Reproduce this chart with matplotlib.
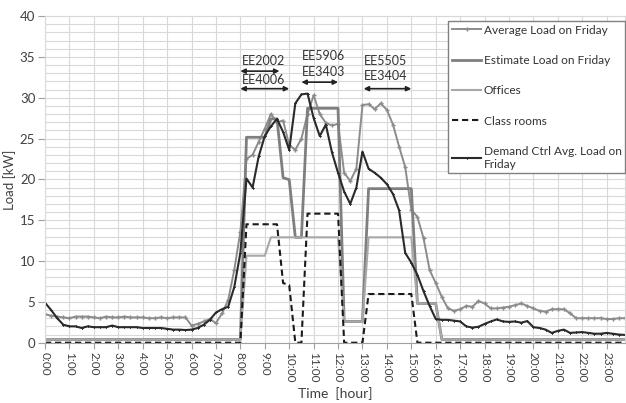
import matplotlib
matplotlib.use("Agg")
import matplotlib.pyplot as plt
import numpy as np

plt.rcParams['font.family'] = ['Lato', 'DejaVu Sans']

# ---------------- data (15-minute samples, 0:00 .. 23:45) ----------------
avg_load = [
    3.5, 3.3, 3.2, 3.1,   3.0, 3.2, 3.2, 3.2,   3.1, 3.0, 3.2, 3.1,
    3.1, 3.2, 3.1, 3.1,   3.1, 3.0, 3.0, 3.1,   3.0, 3.1, 3.1, 3.1,
    2.1, 2.3, 2.6, 2.9,   2.4, 3.6, 5.2, 8.9,   13.6, 22.5, 23.0, 24.6,
    26.2, 28.0, 27.0, 27.2, 24.2, 23.6, 25.0, 28.0, 30.3, 28.0, 26.9, 26.6,
    26.8, 20.8, 19.8, 21.3, 29.1, 29.2, 28.6, 29.3, 28.5, 26.7, 24.0, 21.5,
    16.3, 15.4, 12.8, 8.9,  7.3, 5.6, 4.2, 3.9,   4.1, 4.5, 4.4, 5.1,
    4.8, 4.2, 4.2, 4.3,   4.4, 4.6, 4.8, 4.5,   4.2, 3.9, 3.8, 4.1,
    4.1, 4.1, 3.6, 3.0,   3.0, 3.0, 3.0, 3.0,   2.9, 2.9, 3.0, 3.0,
]

demand_ctrl = [
    4.9, 4.0, 3.0, 2.2,   2.0, 2.0, 1.8, 2.0,   1.9, 1.9, 1.9, 2.1,
    1.9, 1.9, 1.9, 1.9,   1.8, 1.8, 1.8, 1.8,   1.7, 1.6, 1.6, 1.55,
    1.6, 1.8, 2.2, 2.8,   3.7, 4.1, 4.4, 6.8,   11.0, 20.1, 19.0, 22.8,
    25.3, 26.5, 27.4, 25.8, 23.6, 29.3, 30.4, 30.5, 27.5, 25.3, 26.7, 23.3,
    20.8, 18.5, 17.0, 19.0, 23.4, 21.3, 20.8, 20.2, 19.4, 18.2, 16.2, 11.0,
    9.8, 8.3, 6.3, 4.5,   2.9, 2.8, 2.8, 2.7,   2.6, 2.0, 1.85, 1.95,
    2.3, 2.6, 2.85, 2.6,  2.55, 2.6, 2.45, 2.65, 1.9, 1.8, 1.6, 1.2,
    1.45, 1.6, 1.2, 1.25, 1.3, 1.2, 1.1, 1.1,   1.2, 1.1, 1.0, 0.95,
]

# step profiles given as (start hour, value) segments
offices_steps = [(0.0, 0.4), (8.25, 10.65), (9.25, 12.9), (12.25, 2.6),
                 (13.25, 12.9), (15.25, 4.8), (16.25, 0.4)]
classroom_steps = [(0.0, 0.0), (8.25, 14.5), (9.75, 7.3), (10.0, 7.06),
                   (10.25, 0.0), (10.75, 15.8), (12.25, 0.0), (13.25, 5.96),
                   (15.25, 0.0)]

annotations = [
    # label, x start, x end, arrow y, text y
    ("EE2002", 8.0, 9.6, 33.25, 34.5),
    ("EE4006", 8.0, 10.0, 31.1, 32.2),
    ("EE5906", 10.5, 12.0, None, 35.1),
    ("EE3403", 10.5, 12.0, 31.9, 33.1),
    ("EE5505", 13.05, 15.0, None, 34.5),
    ("EE3404", 13.05, 15.0, 31.1, 32.6),
]

hour_labels = ["%d:00" % h for h in range(24)]
series_labels = ["Average Load on Friday", "Estimate Load on Friday", "Offices",
                 "Class rooms", "Demand Ctrl Avg. Load on\nFriday"]

# ---------------- derived series ----------------
t = np.arange(96) * 0.25


def step_series(steps):
    out = np.zeros(96)
    for start, val in steps:
        out[t >= start - 1e-9] = val
    return out


offices = step_series(offices_steps)
classrooms = step_series(classroom_steps)
estimate = offices + classrooms

# ---------------- figure ----------------
fig = plt.figure(figsize=(6.26, 4.03), dpi=100)
ax = fig.add_axes([45 / 626, (403 - 342.7) / 403, 580 / 626, (342.7 - 16) / 403])

grid_c = '#d9d9d9'
ax.set_xlim(0, 23.75)
ax.set_ylim(0, 40)
ax.set_yticks(np.arange(0, 41, 5))
ax.set_yticks(np.arange(0, 41, 1), minor=True)
ax.set_xticks(np.arange(24))
ax.set_xticklabels(hour_labels, rotation=270, fontsize=8.5, color='#404040')
ax.tick_params(axis='y', which='major', labelsize=9.5, labelcolor='#404040',
               length=5, color='#a0a0a0', pad=2)
ax.tick_params(axis='y', which='minor', length=0)
ax.tick_params(axis='x', which='major', length=4, color='#a0a0a0', pad=3)
ax.grid(True, which='both', axis='y', color=grid_c, lw=0.8)
ax.grid(True, which='major', axis='x', color=grid_c, lw=0.8)
ax.set_axisbelow(True)
for s in ['top', 'right', 'left']:
    ax.spines[s].set_color(grid_c)
    ax.spines[s].set_linewidth(0.8)
ax.spines['bottom'].set_color('#a0a0a0')

l1, = ax.plot(t, avg_load, color='#8c8c8c', lw=1.4, marker='P', ms=3.0,
              mew=0, label=series_labels[0])
l2, = ax.plot(t, estimate, color='#7f7f7f', lw=2.0, label=series_labels[1])
l3, = ax.plot(t, offices, color='#a8a8a8', lw=1.5, label=series_labels[2])
l4, = ax.plot(t, classrooms, color='#1a1a1a', lw=1.5, ls=(0, (3, 1.8)),
              label=series_labels[3])
l5, = ax.plot(t, demand_ctrl, color='#2a2a2a', lw=1.5, marker='P', ms=2.0,
              mew=0, label=series_labels[4])

for label, x0, x1, ay, ty in annotations:
    ax.text(x0 + 0.08 if x0 < 10 else x0 + 0.02, ty, label, fontsize=9,
            color='#333333', va='center', ha='left')
    if ay is not None:
        ax.annotate('', xy=(x0, ay), xytext=(x1, ay),
                    arrowprops=dict(arrowstyle='<|-|>', color='#222222',
                                    lw=1.2, mutation_scale=7,
                                    shrinkA=0, shrinkB=0))

ax.set_ylabel('Load [kW]', fontsize=9.5, color='#404040', labelpad=3)
fig.text(335 / 626, (403 - 394) / 403, 'Time  [hour]', fontsize=10,
         color='#404040', ha='center', va='center')

leg = fig.legend(handles=[l1, l2, l3, l4, l5], loc='upper left',
                 bbox_to_anchor=(448 / 626, (403 - 21) / 403),
                 fontsize=8.6, frameon=True, fancybox=False, framealpha=1,
                 edgecolor='#808080', labelspacing=1.62, handlelength=2.5,
                 handletextpad=0.2, borderpad=0.3, borderaxespad=0)
leg.get_frame().set_linewidth(1.0)
for txt in leg.get_texts():
    txt.set_color('#333333')

fig.savefig('out.png', dpi=100)
